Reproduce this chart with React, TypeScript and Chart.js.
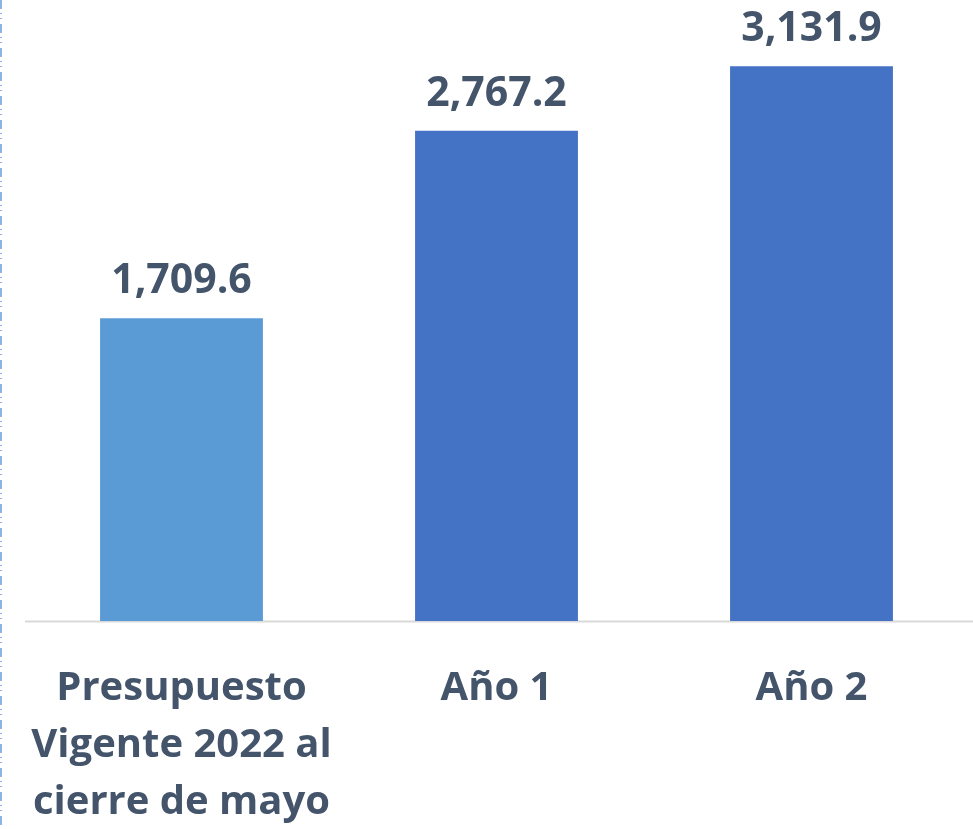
import React, { useEffect, useRef } from "react";
import { Chart, registerables } from "chart.js";

Chart.register(...registerables);

const categories: string[][] = [
  ["Presupuesto", "Vigente 2022 al", "cierre de mayo"],
  ["Año 1"],
  ["Año 2"],
];
const values: number[] = [1709.6, 2767.2, 3131.9];
const barColors: string[] = ["#5b9bd5", "#4472c4", "#4472c4"];
const valueLabels: string[] = ["1,709.6", "2,767.2", "3,131.9"];

const TEXT_COLOR = "#44546a";
const FONT = "'Open Sans', 'DejaVu Sans', sans-serif";

const decorPlugin = {
  id: "decor",
  beforeDraw(chart: any) {
    const { ctx, width } = chart;
    const bottom = chart.chartArea.bottom;
    ctx.save();
    // left dashed slide edge
    ctx.strokeStyle = "#8fb4e3";
    ctx.lineWidth = 2;
    ctx.setLineDash([9, 4, 1, 4, 1, 5]);
    ctx.beginPath();
    ctx.moveTo(1, 0);
    ctx.lineTo(1, chart.height);
    ctx.stroke();
    ctx.setLineDash([]);
    // baseline
    ctx.strokeStyle = "#d9d9d9";
    ctx.lineWidth = 2;
    ctx.beginPath();
    ctx.moveTo(25, bottom + 0.5);
    ctx.lineTo(width, bottom + 0.5);
    ctx.stroke();
    ctx.restore();
  },
  afterDatasetsDraw(chart: any) {
    const { ctx } = chart;
    const meta = chart.getDatasetMeta(0);
    ctx.save();
    ctx.fillStyle = TEXT_COLOR;
    ctx.font = `bold 41px ${FONT}`;
    ctx.textAlign = "center";
    ctx.textBaseline = "alphabetic";
    meta.data.forEach((bar: any, i: number) => {
      ctx.fillText(valueLabels[i], bar.x, bar.y - 25);
    });
    ctx.restore();
  },
};

export default function App() {
  const ref = useRef<HTMLCanvasElement | null>(null);
  useEffect(() => {
    if (!ref.current) return;
    const chart = new Chart(ref.current, {
      type: "bar",
      data: {
        labels: categories,
        datasets: [
          {
            data: values,
            backgroundColor: barColors,
            borderWidth: 0,
            barPercentage: 0.517,
            categoryPercentage: 1,
          },
        ],
      },
      options: {
        responsive: false,
        animation: false,
        layout: { padding: { left: 24, right: 4, top: 1, bottom: 0 } },
        plugins: {
          legend: { display: false },
          tooltip: { enabled: false },
        },
        scales: {
          x: {
            grid: { display: false },
            border: { display: false },
            ticks: {
              color: TEXT_COLOR,
              font: { family: FONT, size: 40, weight: "bold", lineHeight: 1.43 },
              padding: 31,
              maxRotation: 0,
              autoSkip: false,
            },
            afterFit: (scale: any) => {
              scale.height = 208;
              scale.paddingLeft = 0;
              scale.paddingRight = 0;
            },
          },
          y: {
            display: false,
            min: 0,
            max: 3500,
          },
        },
      },
      plugins: [decorPlugin],
    });
    return () => chart.destroy();
  }, []);
  return (
    <div style={{ position: "fixed", left: 0, top: 0, width: 973, height: 829, background: "#fff" }}>
      <canvas ref={ref} width={973} height={829} style={{ display: "block" }} />
    </div>
  );
}
